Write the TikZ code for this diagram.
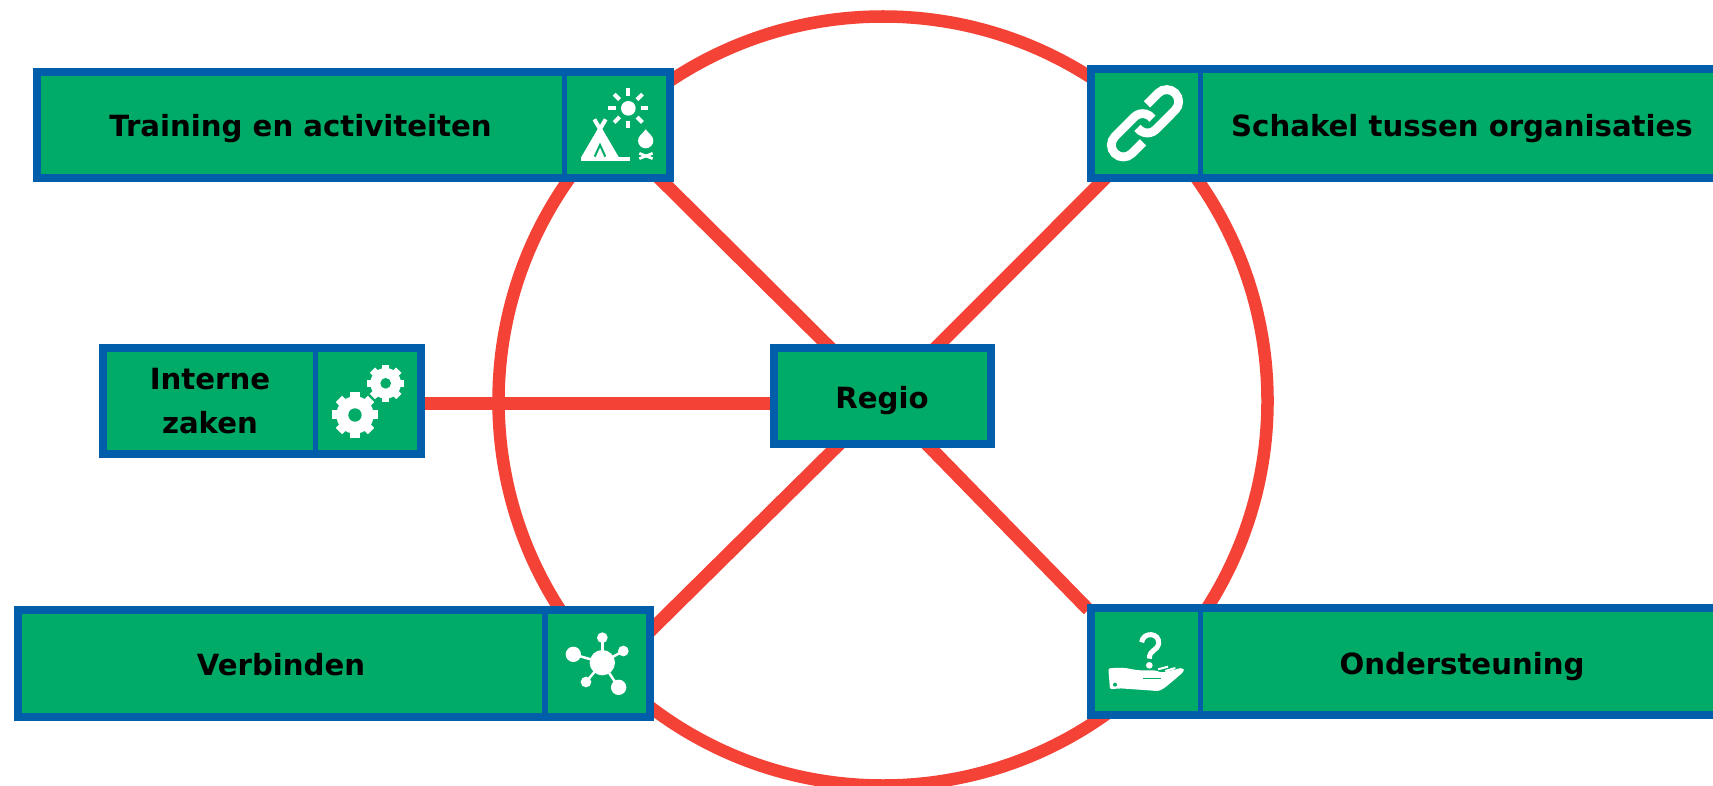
\documentclass[tikz,border=0pt]{standalone}
\usepackage{fontspec}
\setsansfont{DejaVu Sans}
\usetikzlibrary{calc}
\usetikzlibrary{backgrounds}
\definecolor{cardgreen}{RGB}{0,171,103}
\definecolor{cardblue}{RGB}{0,94,170}
\definecolor{spokered}{RGB}{244,67,54}
\tikzset{
    card/.style={
           rectangle,
           draw=cardblue, fill=cardgreen,
           line width=0.08cm,
           inner sep=0pt,
           },
    cardlabel/.style={
           inner sep=0pt,
           text=black,
           align=center,
           font=\sffamily\bfseries\fontsize{8.3}{12.3}\selectfont,
           },
    divider/.style={draw=cardblue, line width=0.053cm},
    ring/.style={draw=spokered, line width=0.125cm},
    spoke/.style={draw=spokered, line width=0.13cm, shorten <=-0.08cm, shorten >=-0.08cm},
    iconline/.style={draw=white, line width=0.04cm},
    iconfill/.style={fill=white},
}
\begin{document}
\begin{tikzpicture}[x=0.01cm,y=-0.01cm]
    \useasboundingbox (0,0) rectangle (1713,785);

    \node[card,minimum width=6.33cm,minimum height=1.06cm] (training) at (353.5,125) {};
    \node[card,minimum width=3.18cm,minimum height=1.06cm] (interne) at (262,401) {};
    \node[card,minimum width=6.32cm,minimum height=1.07cm] (verbinden) at (334,663.5) {};
    \node[card,minimum width=6.35cm,minimum height=1.08cm] (schakel) at (1408.5,123.5) {};
    \node[card,minimum width=6.35cm,minimum height=1.07cm] (ondersteuning) at (1408.5,661.5) {};
    \node[card,minimum width=2.17cm,minimum height=0.95cm] (regio) at (882.3,396) {};

    \node[cardlabel] (trainingtext) at (300.5,129) {Training en activiteiten};
    \node[cardlabel] (internetext) at (210,401) {Interne\\zaken};
    \node[cardlabel] (verbindentext) at (281,664.5) {Verbinden};
    \node[cardlabel] (schakeltext) at (1462,128.5) {Schakel tussen organisaties};
    \node[cardlabel] (ondersteuningtext) at (1462,667) {Ondersteuning};
    \node[cardlabel] (regiotext) at (882,401) {Regio};

    \coordinate (trainingdiv) at (564.7,125);
    \coordinate (internediv) at (315.3,401);
    \coordinate (verbindendiv) at (545,663);
    \coordinate (schakeldiv) at (1200.7,123);
    \coordinate (ondersteuningdiv) at (1200.7,661);
    \draw[divider] (trainingdiv |- training.north) -- (trainingdiv |- training.south);
    \draw[divider] (internediv |- interne.north) -- (internediv |- interne.south);
    \draw[divider] (verbindendiv |- verbinden.north) -- (verbindendiv |- verbinden.south);
    \draw[divider] (schakeldiv |- schakel.north) -- (schakeldiv |- schakel.south);
    \draw[divider] (ondersteuningdiv |- ondersteuning.north) -- (ondersteuningdiv |- ondersteuning.south);

    \begin{scope}[on background layer]
    \coordinate (hub) at (883,401);
    \draw[ring] (hub) circle (384.5);
    \draw[spoke] ([xshift=0.57cm]regio.north west) -- ([xshift=-0.11cm]training.south east);
    \draw[spoke] ([xshift=-0.557cm]regio.north east) -- ([xshift=0.15cm]schakel.south west);
    \draw[spoke] ([xshift=0.66cm]regio.south west) -- ([yshift=-0.21cm]verbinden.north east);
    \draw[spoke] ([xshift=-0.647cm]regio.south east) -- ([xshift=-0.04cm]ondersteuning.north west);
    \coordinate (interneend) at (interne.east |- 0,403);
    \draw[spoke] (interneend) -- (interneend -| regio.west);
    \end{scope}

    \begin{scope}[shift={(550,50)},scale=0.3333]
    \fill[iconfill] (235,175) circle (22);
    \foreach \a in {0,45,...,315}
        \draw[iconline,shift={(235,175)}] (\a:37) -- (\a:60);
    \fill[iconfill] (150,232) -- (100,322) -- (200,322) -- cycle;
    \draw[iconline] (133,208) -- (202,326);
    \draw[iconline] (167,208) -- (98,326);
    \draw[iconline] (92,326) -- (240,326);
    \draw[draw=cardgreen,line width=0.02cm] (134,320) -- (150,285) -- (166,320);
    \fill[iconfill] (287,238) .. controls (297,252) and (310,258) .. (310,272)
        arc[start angle=0,end angle=180,radius=23] .. controls (264,258) and (277,252) .. cycle;
    \draw[iconline,line width=0.027cm] (268,310) -- (308,326);
    \draw[iconline,line width=0.027cm] (268,326) -- (308,310);
    \end{scope}

    \begin{scope}[shift={(1145,123.3)},scale=0.3333]
    \foreach \r in {0,180}
        \draw[iconline,line width=0.088cm,rotate=\r] (6,-57) -- (39.5,-90.5)
            arc[start angle=225,end angle=405,radius=36] -- (32.5,18.5)
            arc[start angle=45,end angle=145,radius=36];
    \end{scope}

    \begin{scope}[shift={(300,330)},scale=0.3333]
    \fill[iconfill] (165,255) circle (56);
    \foreach \a in {0,45,...,315}
        \draw[iconline,line width=0.09cm,shift={(165,255)}] (\a:45) -- (\a:68);
    \fill[cardgreen] (165,255) circle (20);
    \fill[iconfill] (257,160) circle (46);
    \foreach \a in {0,45,...,315}
        \draw[iconline,line width=0.075cm,shift={(257,160)}] (\a:35) -- (\a:56);
    \fill[cardgreen] (257,160) circle (16);
    \end{scope}

    \begin{scope}[shift={(530,590)},scale=0.3333]
    \foreach \x/\y/\rad in {130/193/23,217/143/16,280/183/16,168/276/16,266/292/23} {
        \draw[iconline,line width=0.025cm] (217,218) -- (\x,\y);
        \fill[iconfill] (\x,\y) circle (\rad);
    }
    \fill[iconfill] (217,218) circle (38);
    \end{scope}

    \begin{scope}[shift={(1070,590)},scale=0.3333]
    \draw[iconline,line width=0.05cm] (215,157) .. controls (218,125) and (270,126) .. (266,162)
        .. controls (263,182) and (238,178) .. (238,206);
    \fill[iconfill] (238,226) circle (10);
    \fill[iconfill,rounded corners=0.02cm] (115,235) -- (150,233)
        .. controls (175,234) and (190,240) .. (215,241) -- (258,241) -- (272,248) -- (320,238)
        .. controls (335,232) and (344,238) .. (338,248) -- (292,287)
        .. controls (275,300) and (265,304) .. (250,302) -- (150,295) -- (120,298) -- cycle;
    \draw[iconline,line width=0.02cm] (264,238) -- (294,230);
    \draw[iconline,line width=0.02cm] (286,243) -- (316,234);
    \draw[draw=cardgreen,line width=0.012cm] (220,266) -- (272,266);
    \fill[cardgreen] (135,284) circle (6);
    \end{scope}
\end{tikzpicture}
\end{document}
